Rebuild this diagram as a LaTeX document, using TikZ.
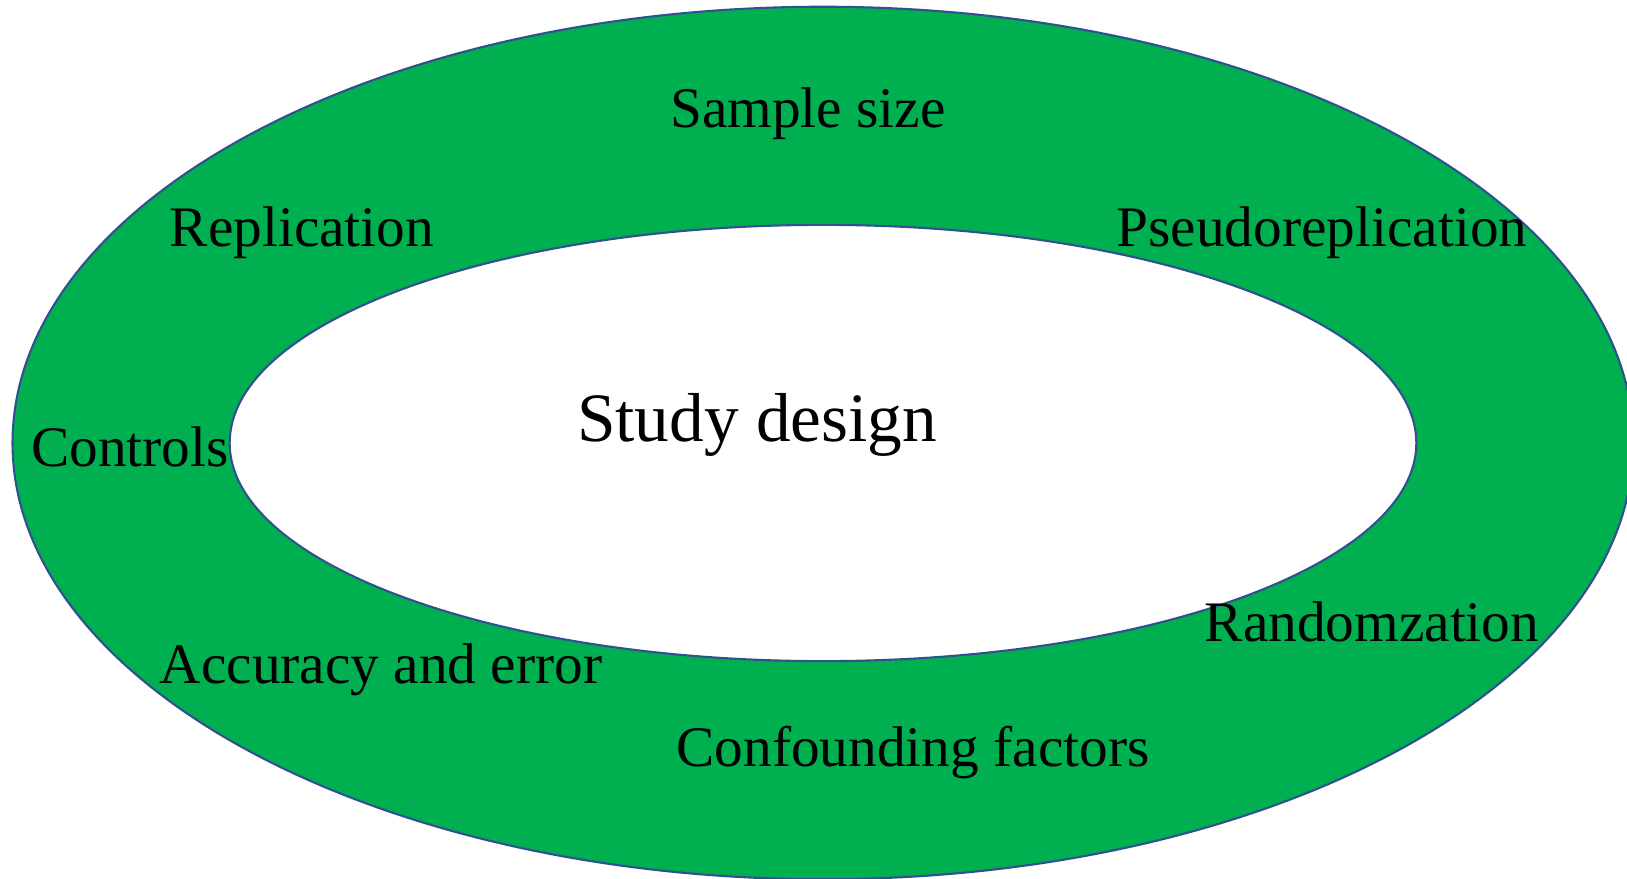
\documentclass[tikz,border=0pt]{standalone}
\usepackage{fontspec}
\setmainfont{Liberation Serif}
\usetikzlibrary{shapes.geometric}
\definecolor{ringgreen}{RGB}{0,176,80}
\definecolor{ringedge}{RGB}{47,82,143}
\tikzset{
  ring/.style={ellipse, draw=ringedge, line width=0.6pt, inner sep=0pt, outer sep=0pt},
  factor/.style={anchor=base, font=\fontsize{16.3}{19}\selectfont, inner sep=0pt},
  topic/.style={anchor=base, font=\fontsize{19.7}{23}\selectfont, inner sep=0pt}
}
\begin{document}
\begin{tikzpicture}[x=0.01cm, y=-0.01cm]
  \useasboundingbox (0,0) rectangle (1627,879);
  \clip (0,0) rectangle (1627,879);
  \fill[white] (0,0) rectangle (1627,879);

  % the two rings
  \node[ring, fill=ringgreen, minimum width=16.2cm, minimum height=8.72cm] (outer) at (823,443) {};
  \node[ring, fill=white, minimum width=11.86cm, minimum height=4.36cm] (inner) at (823,443) {};

  % centre
  \node[topic] (design) at (757,441) {Study design};

  % factors round the ring
  \node[factor] (size) at (808,128) {Sample size};
  \node[factor] (repl) at (302,246) {Replication};
  \node[factor] (pseudo) at (1322,246) {Pseudoreplication};
  \node[factor] (ctrl) at (130,466) {Controls};
  \node[factor] (rand) at (1372,641) {Randomzation};
  \node[factor] (acc) at (381,683) {Accuracy and error};
  \node[factor] (conf) at (913,766) {Confounding factors};
\end{tikzpicture}
\end{document}
